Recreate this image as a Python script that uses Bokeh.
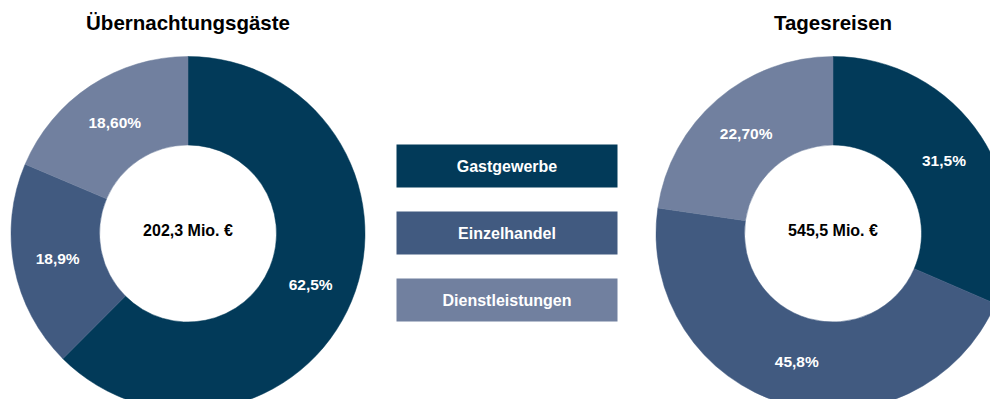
import math
from bokeh.plotting import figure
from bokeh.models import Range1d, ColumnDataSource
from bokeh.core.properties import value
from bokeh.embed import file_html
from bokeh.resources import INLINE

# ---- data ----
categories = ["Gastgewerbe", "Einzelhandel", "Dienstleistungen"]
colors = ["#023a59", "#415a80", "#71809f"]
uebernachtung_values = [62.5, 18.9, 18.6]
uebernachtung_labels = ["62,5%", "18,9%", "18,60%"]
uebernachtung_total = "202,3 Mio. €"
tages_values = [31.5, 45.8, 22.7]
tages_labels = ["31,5%", "45,8%", "22,70%"]
tages_total = "545,5 Mio. €"
titles = ["Übernachtungsgäste", "Tagesreisen"]

W, H = 990, 399
# data coordinates: x = picture x, y = 407 - picture y
p = figure(width=W, height=H, output_backend="svg", toolbar_location=None,
           x_range=Range1d(0, W), y_range=Range1d(407 - H, 407),
           min_border=0, background_fill_color="white", border_fill_color="white")
p.axis.visible = False
p.grid.visible = False
p.outline_line_color = None

FONT = value("Liberation Sans")
R_OUT, R_IN = 177, 88.5


def donut(cx, cy_screen, vals, labels, total, title):
    cy = 407 - cy_screen
    tot = sum(vals)
    starts, ends, lx, ly = [], [], [], []
    cum = 0.0
    for v in vals:
        a0 = math.pi / 2 - 2 * math.pi * cum / tot
        a1 = math.pi / 2 - 2 * math.pi * (cum + v) / tot
        mid = (a0 + a1) / 2
        starts.append(a0)
        ends.append(a1)
        rm = (R_OUT + R_IN) / 2
        lx.append(cx + rm * math.cos(mid))
        ly.append(cy + rm * math.sin(mid))
        cum += v
    src = ColumnDataSource(dict(x=[cx] * len(vals), y=[cy] * len(vals), s=starts, e=ends,
                                c=colors, lx=lx, ly=ly, t=labels))
    p.annular_wedge(x="x", y="y", inner_radius=R_IN, outer_radius=R_OUT,
                    start_angle="s", end_angle="e", direction="clock",
                    fill_color="c", line_color="c", line_width=0.5, source=src)
    p.text(x="lx", y="ly", text="t", source=src, text_color="white",
           text_font=FONT, text_font_style="bold", text_font_size="15.5px",
           text_align="center", text_baseline="middle")
    p.text(x=[cx], y=[cy + 3], text=[total], text_color="black",
           text_font=FONT, text_font_style="bold", text_font_size="16px",
           text_align="center", text_baseline="middle")
    p.text(x=[cx], y=[407 - 22], text=[title], text_color="black",
           text_font=FONT, text_font_style="bold", text_font_size="20.5px",
           text_align="center", text_baseline="middle")


donut(187.5, 233, uebernachtung_values, uebernachtung_labels, uebernachtung_total, titles[0])
donut(832.5, 233, tages_values, tages_labels, tages_total, titles[1])

# legend boxes
box_left, box_right = 396, 617
box_tops = [144, 211, 278]
box_h = 43
leg = ColumnDataSource(dict(
    l=[box_left] * 3, r=[box_right] * 3,
    t=[407 - bt for bt in box_tops], b=[407 - bt - box_h for bt in box_tops],
    c=colors, name=categories,
    tx=[(box_left + box_right) / 2] * 3,
    ty=[407 - bt - box_h / 2 for bt in box_tops]))
p.quad(left="l", right="r", top="t", bottom="b", fill_color="c", line_color=None, source=leg)
p.text(x="tx", y="ty", text="name", source=leg, text_color="white",
       text_font=FONT, text_font_style="bold", text_font_size="16px",
       text_align="center", text_baseline="middle")

open("out.html", "w").write(file_html(p, INLINE))
